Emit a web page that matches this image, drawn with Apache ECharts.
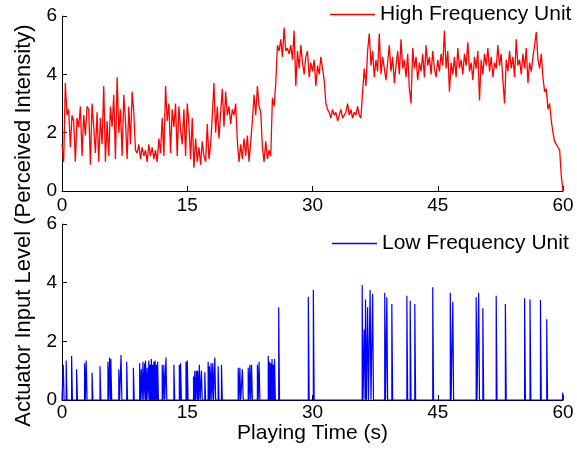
<!DOCTYPE html>
<html>
<head>
<meta charset="utf-8">
<script src="https://cdn.jsdelivr.net/npm/echarts@6/dist/echarts.min.js"></script>
<style>
html,body{margin:0;padding:0;background:#fff;}
#chart{width:577px;height:451px;}
</style>
</head>
<body>
<div id="chart"></div>
<script>
// ---- data ----
const xTicks = [0, 15, 30, 45, 60];
const yTicks = [0, 2, 4, 6];
const seriesNames = ['High Frequency Unit', 'Low Frequency Unit'];
const xName = 'Playing Time (s)';
const yName = 'Actuator Input Level (Perceived Intensity)';

// High frequency unit, sampled every 0.2 s from 0 to 60 s
const highStep = 0.2;
const highValues = [
  1.6, 1.0, 3.7, 2.6, 2.8,   1.5, 2.6, 2.4, 1.0, 2.5,
  2.2, 2.9, 1.2, 2.6, 1.9,   2.9, 2.8, 0.9, 3.0, 2.2,
  1.3, 2.7, 1.0, 2.5, 1.6,   3.6, 1.0, 2.4, 1.2, 2.9,
  2.2, 3.3, 1.1, 3.9, 2.0,   2.8, 1.2, 3.3, 2.4, 1.1,
  2.9, 1.6, 3.4, 2.7, 1.4,   1.3, 1.6, 1.1, 1.5, 1.2,
  1.4, 1.0, 1.6, 1.2, 1.5,   1.1, 1.4, 1.0, 1.8, 1.3,
  2.5, 1.2, 3.6, 2.4, 3.0,   1.3, 2.8, 2.2, 3.0, 1.2,
  2.9, 2.1, 1.6, 2.8, 1.2,   3.0, 2.3, 1.1, 2.5, 0.8,
  1.8, 1.0, 1.5, 0.9, 1.7,   1.2, 1.0, 2.3, 1.1, 1.6,
  2.6, 3.7, 2.0, 2.9, 1.8,   2.7, 3.5, 2.2, 3.4, 2.6,
  2.9, 2.3, 2.8, 2.6, 3.0,   1.7, 1.0, 1.6, 1.1, 1.8,
  1.2, 1.9, 1.0, 1.7, 2.4,   3.3, 2.6, 3.6, 2.9, 2.7,
  1.5, 1.0, 1.7, 1.1, 1.4,   1.2, 3.2, 2.9, 3.7, 5.0,
  4.8, 5.2, 4.6, 5.6, 4.8,   4.9, 4.7, 5.0, 4.5, 5.5,
  3.6, 4.8, 4.2, 5.0, 4.4,   4.0, 4.6, 4.8, 3.9, 4.4,
  4.1, 4.5, 3.6, 4.3, 4.0,   4.6, 4.2, 3.8, 3.0, 2.8,
  2.7, 2.5, 2.8, 2.6, 2.7,   2.4, 2.6, 2.8, 2.5, 2.6,
  2.7, 3.0, 2.6, 2.8, 2.5,   2.7, 2.6, 2.9, 2.6, 2.5,
  3.4, 4.2, 3.6, 4.8, 5.4,   4.3, 4.8, 3.9, 4.5, 4.1,
  5.4, 4.0, 4.6, 4.2, 3.8,   4.4, 5.0, 4.1, 4.6, 3.7,
  4.3, 4.8, 4.0, 5.2, 4.2,   4.5, 3.9, 4.7, 3.5, 3.0,
  4.9, 4.2, 4.6, 3.8, 4.4,   4.1, 4.7, 3.9, 5.0, 4.3,
  4.6, 4.0, 4.8, 4.2, 3.9,   4.5, 4.1, 4.7, 4.3, 5.5,
  4.2, 4.8, 3.4, 4.4, 4.0,   4.6, 3.9, 4.9, 4.2, 4.5,
  4.0, 4.7, 4.3, 5.1, 4.1,   4.4, 3.8, 4.6, 4.2, 4.8,
  3.1, 4.5, 4.0, 4.7, 4.3,   4.9, 4.1, 4.6, 3.9, 4.4,
  4.2, 5.0, 4.3, 4.7, 3.8,   3.0, 4.5, 4.1, 4.8, 4.2,
  4.6, 3.9, 5.2, 4.3, 4.5,   4.0, 4.7, 4.2, 4.9, 3.7,
  4.4, 4.1, 4.6, 5.0, 5.45,  4.5, 4.2, 4.7, 3.9, 3.4,
  3.5, 2.8, 3.0, 2.4, 2.0,   1.7, 1.6, 1.5, 1.4, 0.5,
  0.0
];

// Low frequency unit: pulse start times (s) and levels
const lowTimes = [
  0.15, 0.5, 1.15, 1.75, 2.7, 2.9, 3.6, 4.55, 5.5, 5.7, 5.85, 6.8, 7.07, 7.75, 8.55,
  9.3, 9.5, 9.7, 9.9, 10.0, 10.2, 10.4, 10.55, 10.7, 10.85, 11.0, 11.15, 11.3, 11.45,
  12.0, 12.2, 12.45, 13.4, 14.05, 14.2, 14.85, 15.0,
  15.75, 15.9, 16.1, 16.25, 16.45, 16.7, 17.1,
  17.5, 17.65, 17.85, 18.05, 18.3, 18.7, 19.1,
  21.1, 21.3, 21.6, 22.3, 22.5, 22.7, 23.4, 23.6,
  24.7, 24.85, 25.0, 25.15, 25.3, 25.45, 25.95,
  29.5, 30.1, 35.95, 36.2, 36.35, 36.6, 36.9, 37.2,
  38.65, 38.9, 39.5, 41.3, 41.7, 42.25, 44.4, 46.5, 46.8,
  49.6, 49.9, 50.4, 52.0, 53.1, 55.4, 56.05, 57.3, 58.05, 59.95
];
const lowValues = [
  1.2, 1.35, 1.5, 1.05, 1.25, 1.35, 0.93, 1.15, 1.3, 1.45, 1.4, 1.05, 1.53, 1.3, 1.1,
  1.25, 1.05, 1.3, 1.25, 1.35, 1.1, 1.35, 1.2, 1.4, 1.2, 1.3, 1.35, 1.2, 1.3,
  1.2, 1.2, 1.45, 1.2, 1.2, 1.25, 1.3, 1.35,
  0.8, 1.0, 1.0, 1.0, 1.2, 1.0, 0.95,
  1.3, 1.15, 1.25, 1.25, 1.45, 1.15, 1.2,
  1.1, 1.1, 1.05, 1.1, 1.2, 1.2, 1.2, 1.3,
  1.5, 1.3, 1.25, 1.4, 1.2, 1.4, 3.16,
  3.52, 3.75, 3.92, 2.4, 3.43, 3.16, 3.75, 3.61,
  3.66, 3.5, 3.27, 3.55, 3.38, 3.27, 3.84, 3.66, 3.35,
  3.5, 3.66, 3.13, 3.55, 3.27, 3.47, 3.43, 3.41, 2.75, 0.25
];
const pulseWidth = 0.1;
const xRange = [0, 60];
const yRange = [0, 6];

// ---- build series data ----
const highData = highValues.map((v, i) => [Math.round(i * highStep * 100) / 100, v]);
const lowData = [[xRange[0], 0]];
lowTimes.forEach((t, i) => {
  const v = lowValues[i];
  lowData.push([t, 0], [t, v], [t + pulseWidth, v], [t + pulseWidth, 0]);
});
lowData.push([xRange[1], 0]);

const FONT = "'Liberation Sans', Arial, sans-serif";
const TICK_FS = 19;

function xAxisCfg(gridIndex, withName, margin) {
  return {
    type: 'value', gridIndex, min: xRange[0], max: xRange[1], interval: xTicks[1] - xTicks[0],
    axisLine: { show: true, onZero: false, lineStyle: { color: '#000', width: 1 } },
    axisTick: { show: true, inside: true, length: 5, lineStyle: { color: '#000' } },
    axisLabel: { color: '#000', fontSize: TICK_FS, fontFamily: FONT, margin },
    splitLine: { show: false },
    name: withName ? xName : '', nameLocation: 'middle', nameGap: 17,
    nameTextStyle: { color: '#000', fontSize: 21, fontFamily: FONT }
  };
}
function yAxisCfg(gridIndex) {
  return {
    type: 'value', gridIndex, min: yRange[0], max: yRange[1], interval: yTicks[1] - yTicks[0],
    axisLine: { show: true, lineStyle: { color: '#000', width: 1 } },
    axisTick: { show: true, inside: true, length: 5, lineStyle: { color: '#000' } },
    axisLabel: { color: '#000', fontSize: TICK_FS, fontFamily: FONT, margin: 5 },
    splitLine: { show: false }
  };
}

const chart = echarts.init(document.getElementById('chart'), null, { renderer: 'canvas' });
chart.setOption({
  animation: false,
  backgroundColor: '#fff',
  grid: [
    { left: 62, top: 16, width: 501, height: 175 },
    { left: 62, top: 224, width: 501, height: 176 }
  ],
  xAxis: [xAxisCfg(0, false, 5), xAxisCfg(1, true, 3)],
  yAxis: [yAxisCfg(0), yAxisCfg(1)],
  legend: [
    { data: [seriesNames[0]], left: 330, top: 4, padding: 0, icon: 'rect', itemWidth: 45, itemHeight: 1.5, itemGap: 5,
      textStyle: { color: '#000', fontSize: 21, fontFamily: FONT } },
    { data: [seriesNames[1]], left: 332, top: 233, padding: 0, icon: 'rect', itemWidth: 45, itemHeight: 1.5, itemGap: 5,
      textStyle: { color: '#000', fontSize: 21, fontFamily: FONT } }
  ],
  graphic: [{
    type: 'text', left: 13, top: 'middle', rotation: Math.PI / 2,
    style: { text: yName, fill: '#000', font: '22px ' + FONT, textAlign: 'center', textVerticalAlign: 'middle' }
  }],
  series: [
    { name: seriesNames[0], type: 'line', xAxisIndex: 0, yAxisIndex: 0, data: highData,
      showSymbol: false, symbol: 'none', lineStyle: { color: '#ff0000', width: 1.3 }, itemStyle: { color: '#ff0000' } },
    { name: seriesNames[1], type: 'line', xAxisIndex: 1, yAxisIndex: 1, data: lowData,
      showSymbol: false, symbol: 'none', lineStyle: { color: '#0000ff', width: 1.2 }, itemStyle: { color: '#0000ff' } }
  ]
});
</script>
</body>
</html>
